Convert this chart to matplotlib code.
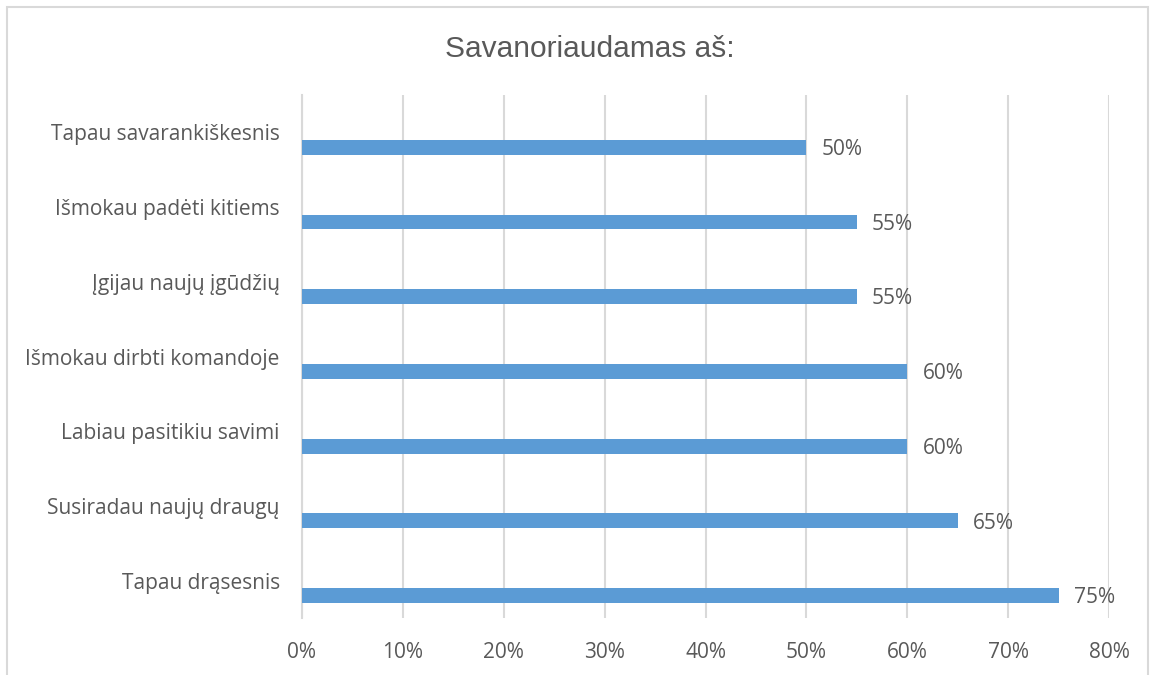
import matplotlib.pyplot as plt
from matplotlib.patches import Rectangle

# data (top to bottom as shown)
categories = ['Tapau savarankiškesnis', 'Išmokau padėti kitiems', 'Įgijau naujų įgūdžių',
              'Išmokau dirbti komandoje', 'Labiau pasitikiu savimi', 'Susiradau naujų draugų',
              'Tapau drąsesnis']
values = [50, 55, 55, 60, 60, 65, 75]
xticks = [0, 10, 20, 30, 40, 50, 60, 70, 80]

text_col = '#595959'
grid_col = '#d9d9d9'
bar_col = '#5b9bd5'
plt.rcParams['font.family'] = ['Open Sans', 'DejaVu Sans']
fs = 15

fig = plt.figure(figsize=(11.51, 6.75), dpi=100)
ax = fig.add_axes([302/1151, 1 - 618/675, 807/1151, 523/675])

# outer chart border
fig.patches.append(Rectangle((7/1151, -0.1), 1141/1151, 1.1 - 7/675, transform=fig.transFigure,
                             fill=False, edgecolor=grid_col, linewidth=1.5))

ypos = list(range(len(categories)))[::-1]
bar_y = [y - 0.2 for y in ypos]
ax.barh(bar_y, values, height=0.2, color=bar_col, zorder=3)
for y, v in zip(bar_y, values):
    ax.text(v + 1.5, y - 0.03, f'{v}%', va='center', ha='left', fontsize=fs, color=text_col)

ax.set_xlim(0, 80)
ax.set_ylim(-0.5, 6.5)
ax.set_xticks(xticks)
ax.set_xticklabels([f'{t}%' for t in xticks], fontsize=fs, color=text_col)
ax.set_yticks(ypos)
ax.set_yticklabels(categories, fontsize=fs, color=text_col)
ax.tick_params(axis='both', length=0)
ax.tick_params(axis='y', pad=16)
ax.tick_params(axis='x', pad=17)
ax.grid(axis='x', color=grid_col, linewidth=1.5, zorder=0)
for s in ['top', 'right', 'bottom']:
    ax.spines[s].set_visible(False)
ax.spines['left'].set_color(grid_col)
ax.spines['left'].set_linewidth(1.5)

fig.text(590/1151, 1 - 49/675, 'Savanoriaudamas aš:', ha='center', va='center',
         fontsize=21.5, color=text_col, family=['Liberation Sans', 'DejaVu Sans'])

fig.savefig('out.png', dpi=100)
